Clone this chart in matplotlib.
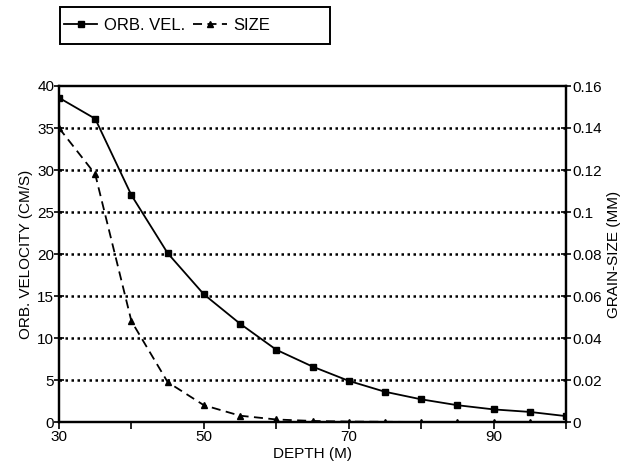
import matplotlib
matplotlib.use("Agg")
import matplotlib.pyplot as plt
from matplotlib.ticker import FixedLocator
from matplotlib.patches import Rectangle

plt.rcParams['font.family'] = ['Liberation Sans', 'DejaVu Sans']

depth = [30, 35, 40, 45, 50, 55, 60, 65, 70, 75, 80, 85, 90, 95, 100]
orb_vel = [38.6, 36.1, 27.0, 20.1, 15.2, 11.7, 8.6, 6.6, 4.9, 3.6, 2.7, 2.0, 1.5, 1.2, 0.7]
grain_size = [0.140, 0.118, 0.048, 0.019, 0.008, 0.003, 0.0012, 0.0005, 0.0002, 0.0001, 0.0, 0.0, 0.0, 0.0, 0.0]

x_ticklabels = ['30', '50', '70', '90']
left_ticks = [0, 5, 10, 15, 20, 25, 30, 35, 40]
right_ticks = [0, 0.02, 0.04, 0.06, 0.08, 0.1, 0.12, 0.14, 0.16]
right_labels = ['0', '0.02', '0.04', '0.06', '0.08', '0.1', '0.12', '0.14', '0.16']

fig = plt.figure(figsize=(6.31, 4.73), dpi=100)
ax = fig.add_axes([59/631, 1-422/473, (566-59)/631, (422-86)/473])
ax2 = ax.twinx()

for y in left_ticks[1:-1]:
    ax.axhline(y, color='black', linestyle=(0, (1.0, 1.4)), linewidth=1.8, zorder=1)

l1, = ax.plot(depth, orb_vel, color='black', linewidth=1.3, marker='s', markersize=5,
              label='ORB. VEL.', zorder=3)
l2, = ax2.plot(depth, grain_size, color='black', linewidth=1.3, linestyle=(0, (5, 3)),
               marker='^', markersize=4.5, label='SIZE', zorder=3)

ax.set_xlim(30, 100)
ax.set_ylim(0, 40)
ax2.set_ylim(0, 0.16)

ax.xaxis.set_major_locator(FixedLocator([30, 50, 70, 90]))
ax.set_xticklabels(x_ticklabels)
ax.xaxis.set_minor_locator(FixedLocator([40, 60, 80, 100]))
ax.set_yticks(left_ticks)
ax.set_yticklabels([str(v) for v in left_ticks])
ax2.set_yticks(right_ticks)
ax2.set_yticklabels(right_labels)

ax.tick_params(axis='x', which='both', direction='out', length=5, width=1.2, labelsize=11, pad=1)
ax.tick_params(axis='y', direction='inout', length=7, width=1.2, labelsize=11, pad=0)
ax2.tick_params(axis='y', direction='inout', length=7, width=1.2, labelsize=11, pad=1)

for a in (ax, ax2):
    for s in a.spines.values():
        s.set_linewidth(1.6)

ax.set_xlabel('DEPTH (M)', fontsize=11, labelpad=2)
ax.set_ylabel('ORB. VELOCITY (CM/S)', fontsize=11, labelpad=3)
ax2.set_ylabel('GRAIN-SIZE (MM)', fontsize=11, labelpad=4)

# legend box drawn as a figure rectangle, legend entries inside it
fig.patches.append(Rectangle((60/631, 1-44/473), 270/631, 37/473, transform=fig.transFigure,
                             fill=False, edgecolor='black', linewidth=1.4))
leg = fig.legend(handles=[l1, l2], loc='center left', bbox_to_anchor=(64/631, 1-25.5/473),
                 ncol=2, frameon=False, fontsize=12, handlelength=2.0,
                 handletextpad=0.4, columnspacing=0.5, borderpad=0, borderaxespad=0)

fig.savefig('out.png', dpi=100)
